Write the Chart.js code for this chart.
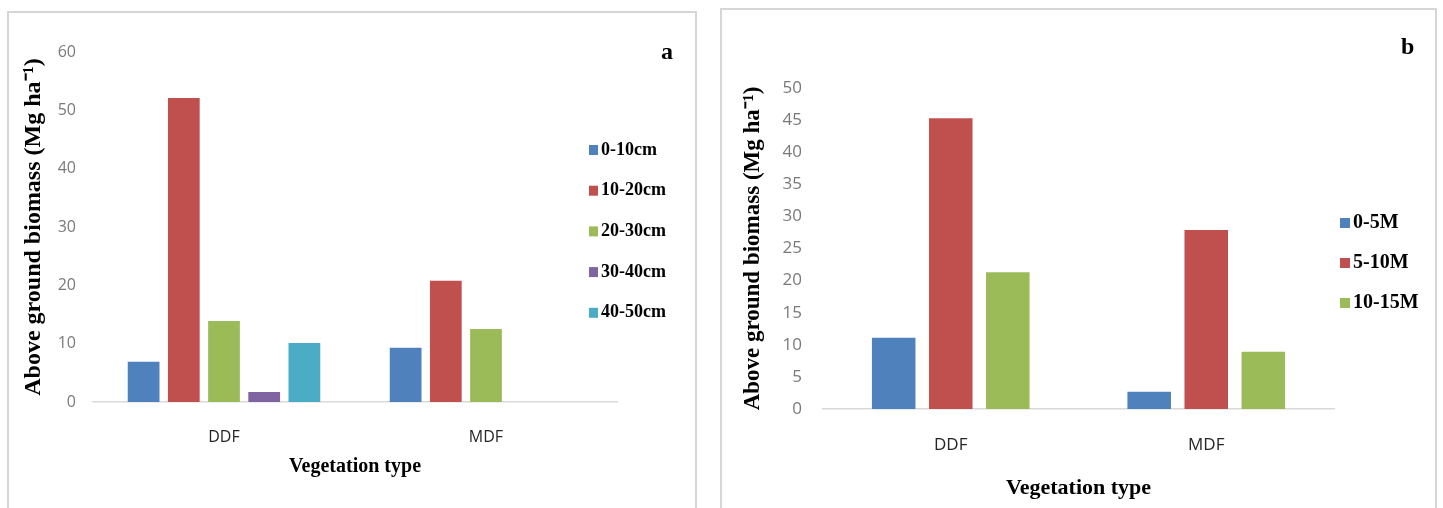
<!DOCTYPE html>
<html>
<head>
  <title>Above ground biomass</title>
  <script src="https://cdn.jsdelivr.net/npm/chart.js"></script>
  <style>
    body { margin: 0; background: #fff; width: 1443px; height: 508px; overflow: hidden; position: relative; }
    .panel { position: absolute; border: 2px solid #d6d6d6; box-sizing: border-box; }
    canvas { position: absolute; }
  </style>
</head>
<body>
  <div class="panel" style="left:7px; top:11px; width:690px; height:520px;"></div>
  <div class="panel" style="left:720px; top:8px; width:717px; height:520px;"></div>
  <canvas id="chartA" width="686" height="495" style="left:9px; top:13px;"></canvas>
  <canvas id="chartB" width="713" height="498" style="left:722px; top:10px;"></canvas>

  <script>
    // values
    const vegTypes = ["DDF", "MDF"];

    const diameterClasses = ["0-10cm", "10-20cm", "20-30cm", "30-40cm", "40-50cm"];
    const diameterDDF = [6.9, 52.1, 13.9, 1.7, 10.1];
    const diameterMDF = [9.3, 20.8, 12.5, null, null];

    const heightClasses = ["0-5M", "5-10M", "10-15M"];
    const heightDDF = [11.1, 45.3, 21.3];
    const heightMDF = [2.7, 27.9, 8.9];

    const yMaxA = 60, yStepA = 10;
    const yMaxB = 50, yStepB = 5;

    const colors = ["#4F81BD", "#C0504D", "#9BBB59", "#8064A2", "#4BACC6"];
    const yTitle = "Above ground biomass (Mg ha\u207B\u00B9)";
    const xTitle = "Vegetation type";

    Chart.defaults.font.family = "'Open Sans', sans-serif";
    Chart.defaults.animation = false;

    // legend drawn beside the bars, like the Excel original
    const sideLegend = {
      id: "sideLegend",
      afterDraw(chart, args, opts) {
        const ctx = chart.ctx;
        ctx.save();
        ctx.textBaseline = "middle";
        ctx.font = opts.font;
        chart.data.datasets.forEach((ds, i) => {
          const y = opts.y + i * opts.step;
          ctx.fillStyle = ds.backgroundColor;
          ctx.fillRect(opts.x, y - opts.boxH / 2, opts.boxW, opts.boxH);
          ctx.fillStyle = "#000";
          ctx.fillText(ds.label, opts.textX, y);
        });
        ctx.font = opts.tagFont;
        ctx.fillText(opts.tag, opts.tagX, opts.tagY);
        ctx.restore();
      }
    };

    function makeDatasets(classes, ddf, mdf) {
      return classes.map((c, i) => ({
        label: c,
        data: [ddf[i], mdf[i]],
        backgroundColor: colors[i]
      }));
    }

    function makeChart(id, classes, ddf, mdf, s) {
      return new Chart(document.getElementById(id), {
        type: "bar",
        data: { labels: vegTypes, datasets: makeDatasets(classes, ddf, mdf) },
        plugins: [sideLegend],
        options: {
          responsive: false,
          categoryPercentage: s.catPct,
          barPercentage: s.barPct,
          layout: { padding: { left: 0, top: s.top, right: s.right, bottom: s.bottom } },
          plugins: {
            legend: { display: false },
            tooltip: { enabled: false },
            sideLegend: s.legend
          },
          scales: {
            x: {
              grid: { display: false, drawTicks: false },
              border: { color: "#d9d9d9", width: 1.5 },
              ticks: { color: "#262626", font: { size: s.xTickSize }, padding: s.xTickPad },
              title: {
                display: true, text: xTitle, color: "#000",
                font: { family: "'Liberation Serif', serif", size: s.xTitleSize, weight: "bold" },
                padding: { top: 0, bottom: 0 }
              },
              afterFit: scale => { scale.height = s.xHeight; }
            },
            y: {
              min: 0, max: s.yMax,
              grid: { display: false, drawTicks: false },
              border: { display: false },
              ticks: { stepSize: s.yStep, color: "#7a7a7a", font: { size: s.yTickSize }, padding: s.yTickPad },
              title: {
                display: true, text: yTitle, color: "#000",
                font: { family: "'Liberation Serif', serif", size: s.yTitleSize, weight: "bold" },
                padding: { top: s.yTitlePad, bottom: 0 }
              },
              afterFit: scale => { scale.width = s.yWidth; }
            }
          }
        }
      });
    }

    makeChart("chartA", diameterClasses, diameterDDF, diameterMDF, {
      catPct: 0.767, barPct: 0.79,
      top: 39, right: 78, bottom: 29,
      xHeight: 77, xTickPad: 26, xTickSize: 16, xTitleSize: 20,
      yWidth: 84, yTickPad: 17, yTickSize: 16, yTitleSize: 24, yTitlePad: 10,
      yMax: yMaxA, yStep: yStepA,
      legend: {
        x: 580, textX: 592, y: 137, step: 40.7, boxW: 9, boxH: 10,
        font: "bold 18px 'Liberation Serif', serif",
        tag: "a", tagX: 652, tagY: 40, tagFont: "bold 24px 'Liberation Serif', serif"
      }
    });

    makeChart("chartB", heightClasses, heightDDF, heightMDF, {
      catPct: 0.67, barPct: 0.763,
      top: 78, right: 101, bottom: 6,
      xHeight: 93, xTickPad: 26, xTickSize: 17, xTitleSize: 22,
      yWidth: 101, yTickPad: 21, yTickSize: 17, yTitleSize: 23, yTitlePad: 17,
      yMax: yMaxB, yStep: yStepB,
      legend: {
        x: 618, textX: 631, y: 213, step: 40, boxW: 10, boxH: 10,
        font: "bold 20px 'Liberation Serif', serif",
        tag: "b", tagX: 679, tagY: 38, tagFont: "bold 24px 'Liberation Serif', serif"
      }
    });
  </script>
</body>
</html>
